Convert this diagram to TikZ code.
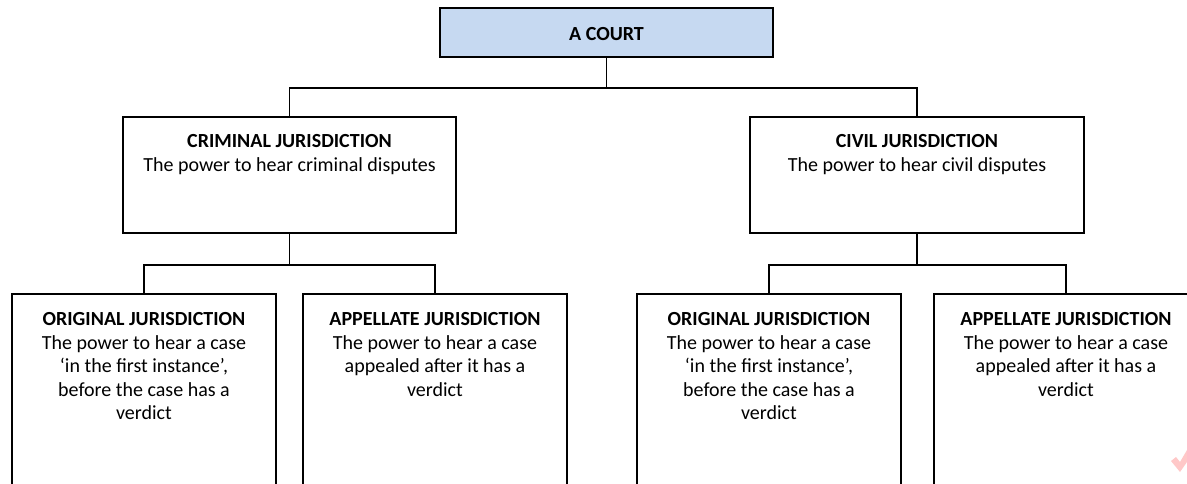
\documentclass[tikz,border=0pt]{standalone}
\usepackage{fontspec}
\setmainfont{Carlito}
\definecolor{courtblue}{HTML}{C6D9F1}
\definecolor{markpink}{HTML}{FFC8C8}
\tikzset{
  box/.style={draw=black, line width=1.5pt, rectangle, inner sep=0pt},
  txt/.style={anchor=north, align=center, inner sep=0pt, font=\fontsize{20}{23.6}\selectfont},
  link/.style={draw=black, line width=1.5pt}
}
\begin{document}
\begin{tikzpicture}[x=1pt,y=-1pt]
\useasboundingbox (0,0) rectangle (1187,483);
\clip (0,0) rectangle (1187,483);
% boxes
\node[box, fill=courtblue, minimum width=333pt, minimum height=49pt] (court) at (606.5,32.5) {};
\node[box, minimum width=333pt, minimum height=116pt] (crim) at (289.5,175) {};
\node[box, minimum width=334pt, minimum height=116pt] (civ) at (917,175) {};
\node[box, minimum width=264pt, minimum height=200pt] (orig1) at (144,394) {};
\node[box, minimum width=264pt, minimum height=200pt] (app1) at (435,394) {};
\node[box, minimum width=264pt, minimum height=200pt] (orig2) at (769,394) {};
\node[box, minimum width=264pt, minimum height=200pt] (app2) at (1066,394) {};
% texts
\node[txt, anchor=center] (tcourt) at (606.5,34) {\textbf{A COURT}};
\node[txt] (tcrim) at ([yshift=-18pt]crim.north) {\textbf{CRIMINAL JURISDICTION}\\The power to hear criminal disputes};
\node[txt] (tciv) at ([yshift=-18pt]civ.north) {\textbf{CIVIL JURISDICTION}\\The power to hear civil disputes};
\node[txt] (torig1) at ([yshift=-19pt]orig1.north) {\textbf{ORIGINAL JURISDICTION}\\The power to hear a case\\‘in the first instance’,\\before the case has a\\verdict};
\node[txt] (tapp1) at ([yshift=-19pt]app1.north) {\textbf{APPELLATE JURISDICTION}\\The power to hear a case\\appealed after it has a\\verdict};
\node[txt] (torig2) at ([yshift=-19pt]orig2.north) {\textbf{ORIGINAL JURISDICTION}\\The power to hear a case\\‘in the first instance’,\\before the case has a\\verdict};
\node[txt] (tapp2) at ([yshift=-19pt]app2.north) {\textbf{APPELLATE JURISDICTION}\\The power to hear a case\\appealed after it has a\\verdict};
% connectors
\draw[link] (court.south) -- ++(0,30) coordinate (j1);
\draw[link] (crim.north) |- (j1) -| (civ.north);
\draw[link] (crim.south) -- ++(0,31) coordinate (j2);
\draw[link] (orig1.north) |- (j2) -| (app1.north);
\draw[link] (civ.south) -- ++(0,31) coordinate (j3);
\draw[link] (orig2.north) |- (j3) -| (app2.north);
% pink watermark fragment
\fill[markpink] (1171,461) -- (1176,457) -- (1180,462) -- (1187,450) -- (1187,462) -- (1180,472) -- cycle;
\end{tikzpicture}
\end{document}
